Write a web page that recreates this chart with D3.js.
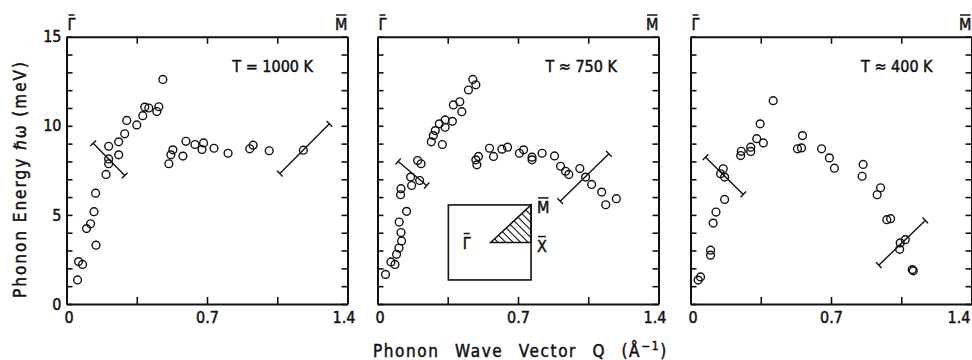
<!DOCTYPE html>
<html>
<head>
<meta charset="utf-8">
<script src="https://cdn.jsdelivr.net/npm/d3@7"></script>
<style>
  body { margin: 0; background: #fff; }
  svg { display: block; }
  text { font-family: 'DejaVu Sans Condensed', 'DejaVu Sans', sans-serif; fill: #111; stroke: #111; stroke-width: 0.45px; }
</style>
</head>
<body>
<div id="chart"></div>
<script>
// tick values
const qTicks = [0, 0.35, 0.7, 1.05, 1.4];
const qLabels = [0, 0.7, 1.4];
const eTicks = d3.range(0, 16);
const eLabels = [0, 5, 10, 15];
const temps = ['T = 1000 K', 'T ≈ 750 K', 'T ≈ 400 K'];

// T = 1000 K
const q1000 = [0.055, 0.06, 0.08, 0.10, 0.12, 0.137, 0.145, 0.147, 0.197, 0.21, 0.21, 0.21, 0.26, 0.26, 0.29, 0.30,
  0.35, 0.38, 0.39, 0.41, 0.45, 0.46, 0.48, 0.51, 0.52, 0.53, 0.58, 0.595, 0.64, 0.675, 0.683, 0.735, 0.805,
  0.913, 0.93, 1.01, 1.18];
const e1000 = [1.35, 2.38, 2.22, 4.23, 4.5, 5.18, 6.22, 3.3, 7.27, 7.87, 8.14, 8.85, 8.37, 9.1, 9.55, 10.3,
  10.05, 10.57, 11.05, 11.0, 10.8, 11.07, 12.6, 7.87, 8.37, 8.65, 8.3, 9.13, 8.95, 8.67, 9.04, 8.74, 8.46,
  8.71, 8.91, 8.6, 8.63];
const bars1000 = [[0.133, 9.02, 0.29, 7.21], [1.063, 7.32, 1.31, 10.11]];

// T = 750 K
const q750 = [0.04, 0.067, 0.087, 0.095, 0.107, 0.12, 0.117, 0.108, 0.145, 0.115, 0.117, 0.17, 0.165, 0.21,
  0.2, 0.217, 0.268, 0.278, 0.288, 0.308, 0.323, 0.337, 0.337, 0.373, 0.378, 0.41, 0.42, 0.453, 0.475, 0.49,
  0.49, 0.495, 0.503, 0.558, 0.578, 0.62, 0.648, 0.707, 0.728, 0.77, 0.77, 0.82, 0.882, 0.912, 0.937, 0.953,
  1.008, 1.037, 1.067, 1.117, 1.137, 1.19];
const e750 = [1.66, 2.36, 2.22, 2.79, 3.14, 3.54, 4.01, 4.6, 5.2, 6.13, 6.47, 6.65, 7.12, 6.93,
  8.05, 7.87, 9.1, 9.45, 9.73, 10.11, 8.95, 9.92, 10.33, 10.25, 11.17, 11.35, 10.79, 12.01, 12.6, 12.3,
  8.09, 7.81, 8.28, 8.74, 8.28, 8.69, 8.8, 8.46, 8.65, 8.24, 8.09, 8.46, 8.31, 7.73, 7.45, 7.27,
  7.6, 7.12, 6.71, 6.28, 5.57, 5.91];
const bars750 = [[0.103, 8.0, 0.245, 6.65], [0.91, 5.77, 1.153, 8.43]];

// T = 400 K
const q400 = [0.038, 0.05, 0.10, 0.10, 0.113, 0.127, 0.17, 0.15, 0.17, 0.163, 0.25, 0.253, 0.30, 0.30, 0.33,
  0.363, 0.347, 0.412, 0.533, 0.553, 0.558, 0.653, 0.692, 0.717, 0.86, 0.855, 0.93, 0.947, 0.978, 0.997,
  1.042, 1.045, 1.07, 1.105, 1.11];
const e400 = [1.34, 1.52, 2.74, 3.02, 4.54, 5.16, 5.87, 7.31, 7.12, 7.59, 8.33, 8.57, 8.56, 8.8, 9.28,
  9.04, 10.11, 11.41, 8.71, 8.76, 9.45, 8.71, 8.2, 7.62, 7.83, 7.17, 6.13, 6.52, 4.73, 4.79,
  3.07, 3.43, 3.61, 1.93, 1.86];
const bars400 = [[0.075, 8.24, 0.263, 6.15], [0.938, 2.18, 1.17, 4.69]];

const width = 972;
const height = 360;
const plotTop = 36.7, plotBottom = 304, panelW = 281;
const panels = [
  {left: 66.5, q: q1000, e: e1000, bars: bars1000, label: temps[0], labelQ: 1.228},
  {left: 377.5, q: q750, e: e750, bars: bars750, label: temps[1], labelQ: 1.193},
  {left: 690.5, q: q400, e: e400, bars: bars400, label: temps[2], labelQ: 1.206}
];

const svg = d3.select('#chart')
  .append('svg')
  .attr('width', width)
  .attr('height', height);

const ink = '#111';

// letter with an overbar (Γ̄, M̄, X̄)
function barLetter(g, x, y, letter, anchor) {
  const t = g.append('text')
    .attr('x', x).attr('y', y)
    .attr('text-anchor', anchor)
    .attr('font-size', 16)
    .text(letter);
  const w = t.node().getComputedTextLength();
  const x0 = anchor === 'end' ? x - w : anchor === 'middle' ? x - w / 2 : x;
  g.append('line')
    .attr('x1', x0 + 1).attr('x2', x0 + w - 1)
    .attr('y1', y - 15).attr('y2', y - 15)
    .attr('stroke', ink).attr('stroke-width', 1.5);
}

panels.forEach((p, i) => {
  const x = d3.scaleLinear().domain([0, 1.4]).range([p.left, p.left + panelW]);
  const y = d3.scaleLinear().domain([0, 15]).range([plotBottom, plotTop]);
  const g = svg.append('g');

  const styleAxis = a => {
    a.selectAll('path.domain').attr('stroke', ink).attr('stroke-width', 2);
    a.selectAll('.tick line').attr('stroke', ink).attr('stroke-width', 1.6);
    a.selectAll('.tick text').attr('font-size', 16).attr('fill', ink)
      .style('font-family', "'DejaVu Sans Condensed', 'DejaVu Sans', sans-serif");
  };

  g.append('g')
    .attr('transform', `translate(0,${plotBottom})`)
    .call(d3.axisBottom(x).tickValues(qTicks).tickSize(-7).tickSizeOuter(0).tickPadding(8)
      .tickFormat(d => qLabels.includes(d) ? (d === 0 ? '0' : d3.format('.1f')(d)) : ''))
    .call(styleAxis)
    .call(a => a.selectAll('.tick text')
      .attr('dx', d => d === 1.4 ? (i === 2 ? 0 : -4) : d === 0 ? 2 : 0)
      .attr('x', d => (i === 2 && d === 1.4) ? -1.5 : null)
      .attr('text-anchor', d => (i === 2 && d === 1.4) ? 'end' : null));

  g.append('g')
    .attr('transform', `translate(0,${plotTop})`)
    .call(d3.axisTop(x).tickValues(qTicks).tickSize(-7).tickSizeOuter(0).tickFormat(''))
    .call(styleAxis);

  g.append('g')
    .attr('transform', `translate(${p.left},0)`)
    .call(d3.axisLeft(y).tickValues(eTicks).tickSize(-6).tickSizeOuter(0).tickPadding(5)
      .tickFormat(d => (i === 0 && eLabels.includes(d)) ? d : ''))
    .call(styleAxis);

  g.append('g')
    .attr('transform', `translate(${p.left + panelW},0)`)
    .call(d3.axisRight(y).tickValues(eTicks).tickSize(-6).tickSizeOuter(0).tickFormat(''))
    .call(styleAxis);

  g.selectAll('.domain').attr('fill', 'none');

  // symmetry points
  barLetter(g, p.left + 1, 30, 'Γ', 'start');
  barLetter(g, p.left + panelW, 30, 'M', 'end');

  // temperature label
  g.append('text')
    .attr('x', x(p.labelQ)).attr('y', 72)
    .attr('text-anchor', 'end')
    .attr('font-size', 16)
    .text(p.label);

  // resolution bars
  p.bars.forEach(b => {
    const x1 = x(b[0]), y1 = y(b[1]), x2 = x(b[2]), y2 = y(b[3]);
    const len = Math.hypot(x2 - x1, y2 - y1);
    const nx = -(y2 - y1) / len * 4, ny = (x2 - x1) / len * 4;
    g.append('line').attr('x1', x1).attr('y1', y1).attr('x2', x2).attr('y2', y2)
      .attr('stroke', ink).attr('stroke-width', 1.4);
    [[x1, y1], [x2, y2]].forEach(([cx, cy]) => {
      g.append('line').attr('x1', cx - nx).attr('y1', cy - ny).attr('x2', cx + nx).attr('y2', cy + ny)
        .attr('stroke', ink).attr('stroke-width', 1.4);
    });
  });

  // data points
  g.selectAll('circle.pt')
    .data(p.q.map((q, k) => [q, p.e[k]]))
    .join('circle')
    .attr('class', 'pt')
    .attr('cx', d => x(d[0]))
    .attr('cy', d => y(d[1]))
    .attr('r', 3.9)
    .attr('fill', 'none')
    .attr('stroke', ink)
    .attr('stroke-width', 1.4);

  // Brillouin zone inset
  if (i === 1) {
    const box = [0.353, 0.765, 1.35, 5.56];
    const apex = [0.564, 3.45];
    g.append('rect')
      .attr('x', x(box[0])).attr('y', y(box[3]))
      .attr('width', x(box[1]) - x(box[0])).attr('height', y(box[2]) - y(box[3]))
      .attr('fill', 'none').attr('stroke', ink).attr('stroke-width', 1.6);
    const tri = [[x(apex[0]), y(apex[1])], [x(box[1]), y(apex[1])], [x(box[1]), y(box[3])]];
    svg.append('clipPath').attr('id', 'triClip')
      .append('polygon').attr('points', tri.map(d => d.join(',')).join(' '));
    const hatch = g.append('g').attr('clip-path', 'url(#triClip)');
    for (let k = -60; k <= 60; k += 7.5) {
      hatch.append('line')
        .attr('x1', tri[0][0] + k - 60).attr('y1', tri[2][1] - 60 + 0)
        .attr('x2', tri[0][0] + k + 60).attr('y2', tri[2][1] + 60)
        .attr('stroke', ink).attr('stroke-width', 1.1);
    }
    g.append('polygon').attr('points', tri.map(d => d.join(',')).join(' '))
      .attr('fill', 'none').attr('stroke', ink).attr('stroke-width', 1.5);
    barLetter(g, x(apex[0]) - 24, y(apex[1]) + 6, 'Γ', 'middle');
    barLetter(g, x(box[1]) + 6, y(box[3]) + 8, 'M', 'start');
    barLetter(g, x(box[1]) + 6, y(apex[1]) + 9, 'X', 'start');
  }
});

// axis titles
svg.append('text')
  .attr('transform', 'translate(26,180) rotate(-90)')
  .attr('text-anchor', 'middle')
  .attr('font-size', 17)
  .attr('textLength', 236)
  .attr('lengthAdjust', 'spacing')
  .text('Phonon Energy ℏω (meV)');

const xt = svg.append('text')
  .attr('x', 373).attr('y', 357)
  .attr('font-size', 17)
  .style('letter-spacing', '1.6px')
  .style('word-spacing', '9px');
xt.append('tspan').text('Phonon Wave Vector Q (Å');
xt.append('tspan').attr('dy', -7).attr('font-size', 12).text('−1');
xt.append('tspan').attr('dy', 7).text(')');
</script>
</body>
</html>
